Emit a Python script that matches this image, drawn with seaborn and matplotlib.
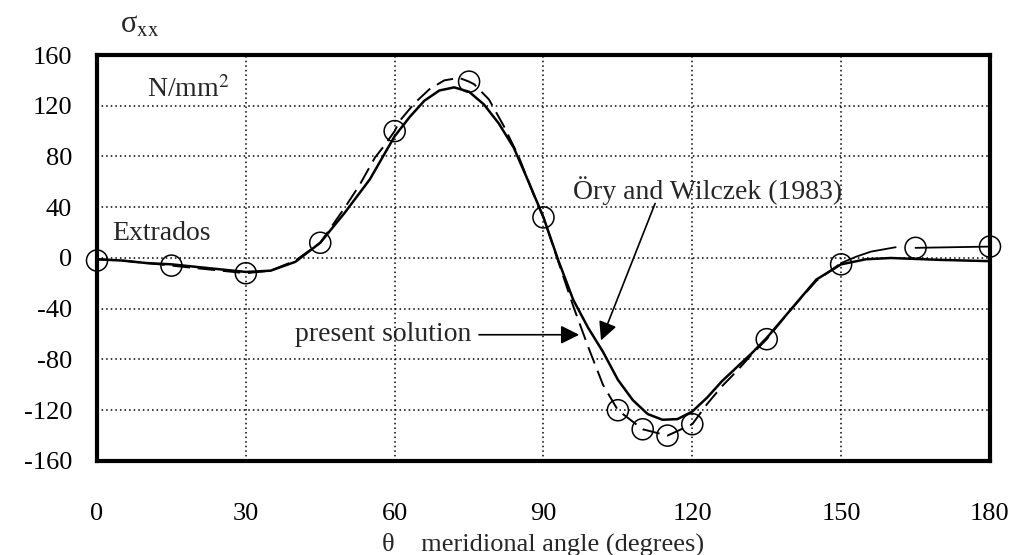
import matplotlib
matplotlib.use("Agg")
import matplotlib.pyplot as plt
import seaborn as sns
import pandas as pd

# ---- data ----
pts_theta = [0, 15, 30, 45, 60, 75, 90, 105, 110, 115, 120, 135, 150, 165, 180]
pts_sigma = [-2, -6, -12, 12, 100, 139, 32, -120, -135, -140, -131, -64, -5, 8, 9]

ory_theta = [0, 5, 10, 15, 20, 25, 30, 35, 40, 45, 50, 55, 60, 63, 66, 69, 72, 75, 78, 81,
             84, 87, 90, 93, 96, 99, 102, 105, 108, 111, 114, 117, 120, 123, 126, 129, 132,
             135, 140, 145, 150, 155, 160, 170, 180]
ory_sigma = [-1, -2, -4, -5, -7, -9, -11, -10, -3, 12, 36, 62, 96, 111, 124, 132, 134.5, 131,
             121, 106, 87, 60, 32, -2, -33, -55, -74, -96, -112, -123, -127.5, -127, -121,
             -110, -97, -86, -75, -63, -40, -17, -5, -1, 0, -1.5, -2.5]

pres_theta = [0, 5, 10, 15, 20, 25, 30, 35, 40, 45, 50, 53, 56, 58, 60, 61, 64, 67, 70, 73,
              75, 76, 79, 82, 85, 88, 90, 93, 96, 99, 102, 105, 110, 115, 120, 123, 126, 129,
              132, 135, 140, 145, 150]
pres_sigma = [-1, -2, -4, -6, -8, -10, -12, -10, -2, 12, 40, 58, 79, 89, 100, 108, 122, 133,
              140, 142, 139, 137, 125, 104, 80, 50, 32, -3, -38, -70, -100, -120, -135, -140,
              -131, -115, -101, -89, -76, -64, -40, -18, -4]

tail_theta = [150, 153, 156, 161]
tail_sigma = [-4, 1, 5, 8.5]
end_theta = [165, 180]
end_sigma = [8, 9]

xticks = [0, 30, 60, 90, 120, 150, 180]
yticks = [-160, -120, -80, -40, 0, 40, 80, 120, 160]

# ---- style ----
sns.set_theme(style="white")
plt.rcParams["font.family"] = ["Liberation Serif", "DejaVu Serif"]
plt.rcParams["mathtext.fontset"] = "stix"
plt.rcParams["axes.unicode_minus"] = False

fig = plt.figure(figsize=(10.19, 5.55), dpi=100)
ax = fig.add_axes([0.0952, 0.1694, 0.8763, 0.7315])

ory = pd.DataFrame({"theta": ory_theta, "sigma": ory_sigma})
pres = pd.DataFrame({"theta": pres_theta, "sigma": pres_sigma})
tail = pd.DataFrame({"theta": tail_theta, "sigma": tail_sigma})
end = pd.DataFrame({"theta": end_theta, "sigma": end_sigma})
pts = pd.DataFrame({"theta": pts_theta, "sigma": pts_sigma})

sns.lineplot(data=ory, x="theta", y="sigma", ax=ax, color="black", lw=1.8,
             sort=False, estimator=None, zorder=3)
sns.lineplot(data=pres, x="theta", y="sigma", ax=ax, color="black", lw=1.4,
             linestyle=(0, (9, 4)), sort=False, estimator=None, zorder=3)
sns.lineplot(data=tail, x="theta", y="sigma", ax=ax, color="black", lw=1.3,
             sort=False, estimator=None, zorder=3)
sns.lineplot(data=end, x="theta", y="sigma", ax=ax, color="black", lw=1.3,
             sort=False, estimator=None, zorder=3)
sns.scatterplot(data=pts, x="theta", y="sigma", ax=ax, s=230, facecolor="none",
                edgecolor="black", linewidth=1.1, zorder=4, clip_on=False)

ax.set_xlim(0, 180)
ax.set_ylim(-160, 160)
ax.set_xticks(xticks)
ax.set_yticks(yticks)
ax.set_xticklabels([str(v) for v in xticks])
ax.set_yticklabels([str(v) for v in yticks])
ax.tick_params(axis="both", direction="in", length=14, width=1.0, colors="black",
               labelsize=19)
ax.tick_params(axis="x", pad=30)
ax.tick_params(axis="y", pad=18)
ax.grid(True, color="black", linestyle=(0, (1, 2)), linewidth=1.1)
for s in ax.spines.values():
    s.set_visible(True)
    s.set_color("black")
    s.set_linewidth(3)
    s.set_zorder(5)

ax.set_xlabel("θ    meridional angle (degrees)", fontsize=19, labelpad=6)
ax.set_ylabel("")

fig.text(140 / 1019, 1 - 25 / 555, r"σ$_{\mathrm{xx}}$", fontsize=22,
         ha="center", va="center")
ax.text(10, 133, r"N/mm$^{2}$", fontsize=20, ha="left", va="center")
ax.text(3, 19, "Extrados", fontsize=20, ha="left", va="center")
ax.text(123, 53, "Öry and Wilczek (1983)", fontsize=20, ha="center", va="center")

ax.annotate("present solution", xy=(97.2, -60.5), xytext=(75.5, -60.5),
            fontsize=20, ha="right", va="center",
            arrowprops=dict(arrowstyle="-|>", color="black", lw=1.2,
                            mutation_scale=28, shrinkA=3, shrinkB=0))
ax.annotate("", xy=(101.6, -65), xytext=(112.5, 43),
            arrowprops=dict(arrowstyle="-|>", color="black", lw=1.2,
                            mutation_scale=28, shrinkA=0, shrinkB=0))

fig.savefig("out.png", dpi=100)
